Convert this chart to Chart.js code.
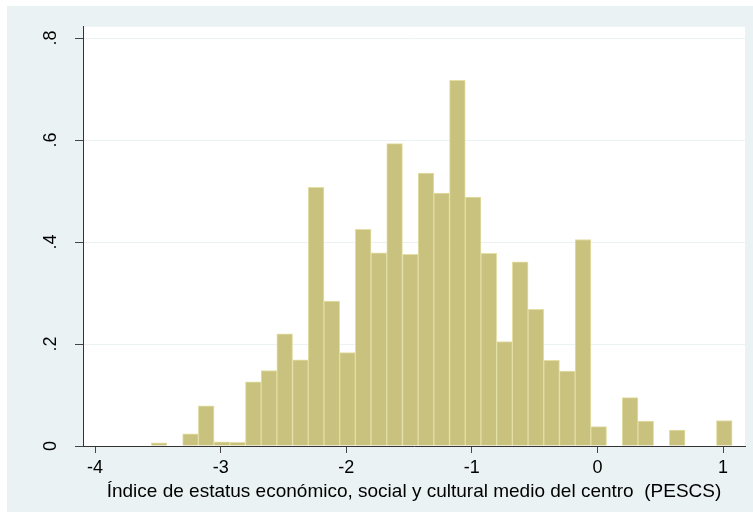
<!DOCTYPE html>
<html>
<head>
<meta charset="utf-8">
<script src="https://cdn.jsdelivr.net/npm/chart.js@4/dist/chart.umd.min.js"></script>
<style>
  html, body { margin: 0; padding: 0; background: #fff; }
  #wrap { width: 753px; height: 512px; }
</style>
</head>
<body>
<div id="wrap"><canvas id="hist"></canvas></div>
<script>
// bin midpoints of the PESCS histogram (width .125)
const binMids = [
    -3.490, -3.365, -3.240, -3.115, -2.990, -2.865, -2.740, -2.615, -2.490, -2.365,
    -2.240, -2.115, -1.990, -1.865, -1.740, -1.615, -1.490, -1.365, -1.240, -1.115,
    -0.990, -0.865, -0.740, -0.615, -0.490, -0.365, -0.240, -0.115, 0.010, 0.135,
    0.260, 0.385, 0.510, 0.635, 0.760, 0.885, 1.010
];
// density per bin
const density = [
    0.006, 0, 0.024, 0.079, 0.008, 0.007, 0.126, 0.148, 0.220, 0.169,
    0.507, 0.284, 0.183, 0.425, 0.379, 0.593, 0.376, 0.535, 0.496, 0.717,
    0.488, 0.378, 0.205, 0.361, 0.268, 0.168, 0.147, 0.405, 0.038, 0,
    0.095, 0.049, 0, 0.031, 0, 0, 0.050
];
const xTicks = [-4, -3, -2, -1, 0, 1];
const yTicks = [0, 0.2, 0.4, 0.6, 0.8];
const yTickLabels = ['0', '.2', '.4', '.6', '.8'];
const xTitle = 'Índice de estatus económico, social y cultural medio del centro  (PESCS)';

const bgColor = 'rgb(234,242,243)';
const fontFamily = 'Liberation Sans, Arial, sans-serif';

// stata-like backgrounds: white page, light blue graph region, white plot region
const backgrounds = {
    id: 'backgrounds',
    beforeDraw(chart) {
        const ctx = chart.ctx;
        const a = chart.chartArea;
        ctx.save();
        ctx.fillStyle = '#ffffff';
        ctx.fillRect(0, 0, chart.width, chart.height);
        ctx.fillStyle = bgColor;
        ctx.fillRect(7, 6, chart.width - 7, chart.height - 6);
        ctx.fillStyle = '#ffffff';
        ctx.fillRect(a.left, a.top, a.right - a.left, a.bottom - a.top);
        ctx.restore();
    }
};

const ctx = document.getElementById('hist').getContext('2d');
new Chart(ctx, {
    type: 'bar',
    data: {
        datasets: [{
            data: binMids.map((m, i) => ({ x: m, y: density[i] })),
            backgroundColor: 'rgb(201,194,126)',
            borderColor: 'rgb(226,222,165)',
            borderWidth: 1,
            barPercentage: 1,
            categoryPercentage: 1
        }]
    },
    options: {
        responsive: true,
        maintainAspectRatio: false,
        animation: false,
        layout: { padding: { left: 7, top: 24, right: 8, bottom: 9 } },
        plugins: {
            legend: { display: false },
            tooltip: { enabled: false }
        },
        scales: {
            x: {
                type: 'linear',
                min: -4.096,
                max: 1.175,
                offset: false,
                afterBuildTicks: (scale) => { scale.ticks = xTicks.map(v => ({ value: v })); },
                afterFit: (scale) => { scale.height = 57; },
                grid: {
                    offset: false,
                    drawOnChartArea: false,
                    color: 'transparent',
                    tickColor: '#444',
                    tickLength: 7
                },
                border: { color: '#333', width: 1 },
                ticks: {
                    color: '#000',
                    padding: 4,
                    maxRotation: 0,
                    font: { family: fontFamily, size: 18 }
                },
                title: {
                    display: true,
                    text: xTitle,
                    color: '#000',
                    padding: { top: 0, bottom: 0 },
                    font: { family: fontFamily, size: 19 }
                }
            },
            y: {
                min: 0,
                max: 0.822,
                afterBuildTicks: (scale) => { scale.ticks = yTicks.map(v => ({ value: v })); },
                afterFit: (scale) => { scale.width = 76; },
                grid: {
                    color: bgColor,
                    tickColor: '#444',
                    tickLength: 8
                },
                border: { color: '#333', width: 1 },
                ticks: {
                    color: '#000',
                    padding: 16,
                    minRotation: 90,
                    maxRotation: 90,
                    crossAlign: 'center',
                    font: { family: fontFamily, size: 18 },
                    callback: (v) => yTickLabels[yTicks.indexOf(v)] ?? ''
                }
            }
        }
    },
    plugins: [backgrounds]
});
</script>
</body>
</html>
